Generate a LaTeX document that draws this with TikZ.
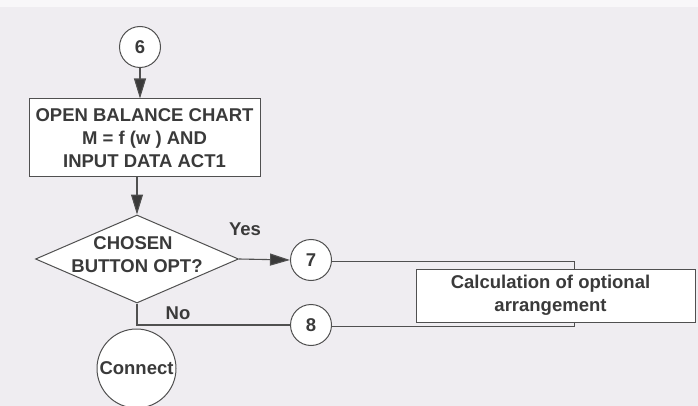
\documentclass[tikz,border=0pt]{standalone}
\usepackage{fontspec}
\setmainfont{Liberation Sans}
\usetikzlibrary{shapes.geometric,arrows.meta}
\definecolor{paper}{HTML}{EFEDF1}
\definecolor{ink}{HTML}{3A3A3A}
\definecolor{rule}{HTML}{505050}
\begin{document}
\begin{tikzpicture}[x=1pt,y=1pt,
  every node/.style={text=ink, font=\fontsize{18.5}{23}\selectfont\bfseries},
  conn/.style={circle, draw=rule, line width=1pt, fill=white, minimum size=41pt, inner sep=0pt},
  bigconn/.style={circle, draw=rule, line width=1pt, fill=white, minimum size=79pt, inner sep=0pt},
  procbox/.style={rectangle, draw=rule, line width=1pt, fill=white, inner sep=0pt, align=center},
  decision/.style={diamond, draw=rule, line width=1pt, fill=white, inner sep=0pt, aspect=2.3},
  flow/.style={draw=rule, line width=1.1pt},
  arr/.style={flow, -{Triangle[length=20pt, width=12pt, fill=ink]}},
  lbl/.style={inner sep=0pt}
]
\useasboundingbox (0,0) rectangle (698,-406);
\fill[paper] (0,0) rectangle (698,-406);
\fill[white, opacity=0.6] (0,0) rectangle (698,-7);

% start connector and first process step
\node[conn] (c6) at (140,-47) {6};
\node[procbox, minimum width=231pt, minimum height=78pt] (open) at (144.5,-138)
  {OPEN BALANCE CHART\\M = f (w ) AND\\INPUT DATA ACT1};

% decision
\node[decision, minimum width=203pt, minimum height=88pt] (dec) at (137,-259) {};
\node[lbl, align=center] (dectxt) at (133,-255) {CHOSEN\\\hspace*{8pt}BUTTON OPT?};

% outgoing connectors
\node[conn] (c7) at (311,-260) {7};
\node[conn] (c8) at (311,-325) {8};
\node[bigconn] (cnx) at (136.5,-368.5) {Connect};

% branch labels
\node[lbl] (yes) at (245,-229) {Yes};
\node[lbl] (no) at (178,-313) {No};

% connectors
\draw[arr] (c6.south) -- (c6.south |- open.north);
\draw[arr] (open.south -| dec.north) -- (dec.north);
\draw[arr] (dec.east) -- (c7.west);
\draw[flow] (dec.south) |- (c8.west);

% loop drawn behind the calculation box
\coordinate (j7) at (574,-261);
\coordinate (j8) at (574,-326);
\draw[flow, line width=0.9pt] (c7.east |- j7) -- (j7) -- (j8) -- (c8.east |- j8);

\node[procbox, minimum width=279pt, minimum height=53pt] (calc) at (555.5,-295.5)
  {\hspace*{-10pt}Calculation of optional\\\hspace*{-10pt}arrangement};
\end{tikzpicture}
\end{document}
